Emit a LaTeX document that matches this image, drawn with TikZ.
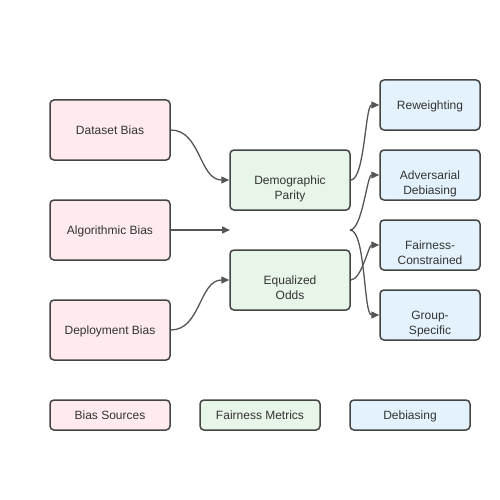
\documentclass[tikz,border=0pt]{standalone}
\usepackage{fontspec}
\setmainfont{Liberation Sans}
\usetikzlibrary{arrows.meta,positioning}
\definecolor{biasfill}{HTML}{FFEBEE}
\definecolor{metricfill}{HTML}{E8F5E9}
\definecolor{debiasfill}{HTML}{E3F2FD}
\definecolor{edgegray}{HTML}{444444}
\definecolor{linkgray}{HTML}{555555}
\definecolor{textgray}{HTML}{333333}
\tikzset{
	box/.style={draw=edgegray, line width=1.5pt, rounded corners=4pt, align=center,
		text=textgray, font=\fontsize{12}{15}\selectfont, inner sep=0pt,
		text height=9pt, text depth=0pt},
	twoline/.style={text height=39pt},
	bias/.style={box, fill=biasfill, minimum width=120pt, minimum height=60pt},
	metric/.style={box, twoline, fill=metricfill, minimum width=120pt, minimum height=60pt},
	debias/.style={box, fill=debiasfill, minimum width=100pt, minimum height=50pt},
	legendbox/.style={box, minimum width=120pt, minimum height=30pt},
	link/.style={-{Triangle[length=8pt,width=7pt]}, draw=linkgray, line width=1.3pt}
}
\begin{document}
\begin{tikzpicture}[x=1pt, y=-1pt]
	\useasboundingbox[fill=white] (0,0) rectangle (500,500);
	% bias sources
	\node[bias] (dataset) at (110,130) {Dataset Bias};
	\node[bias] (algorithmic) at (110,230) {Algorithmic Bias};
	\node[bias] (deployment) at (110,330) {Deployment Bias};
	% fairness metrics
	\node[metric] (parity) at (290,180) {Demographic\\Parity};
	\node[metric] (odds) at (290,280) {Equalized\\Odds};
	% debiasing methods
	\node[debias] (reweighting) at (430,105) {Reweighting};
	\node[debias, twoline] (adversarial) at (430,175) {Adversarial\\Debiasing};
	\node[debias, twoline] (constrained) at (430,245) {Fairness-\\Constrained};
	\node[debias, twoline] (group) at (430,315) {Group-\\Specific};
	% legend
	\node[legendbox, fill=biasfill] (legbias) at (110,415) {Bias Sources};
	\node[legendbox, fill=metricfill] (legmetric) at (260,415) {Fairness Metrics};
	\node[legendbox, fill=debiasfill] (legdebias) at (410,415) {Debiasing};
	\coordinate (algoend) at (230,230);
	\coordinate (split) at (350,230);
	% links
	\draw[link] (dataset.east) to[out=0, in=180] (parity.west);
	\draw[link] (algorithmic.east) -- (algoend);
	\draw[link] (deployment.east) to[out=0, in=180] (odds.west);
	\draw[link] (parity.east) to[out=0, in=180, looseness=0.45] (reweighting.west);
	\draw[link] (odds.east) to[out=0, in=180, looseness=0.6] (constrained.west);
	\draw[link] (split) to[out=0, in=180, looseness=0.5] (adversarial.west);
	\draw[link] (split) to[out=0, in=180, looseness=0.45] (group.west);
\end{tikzpicture}
\end{document}
